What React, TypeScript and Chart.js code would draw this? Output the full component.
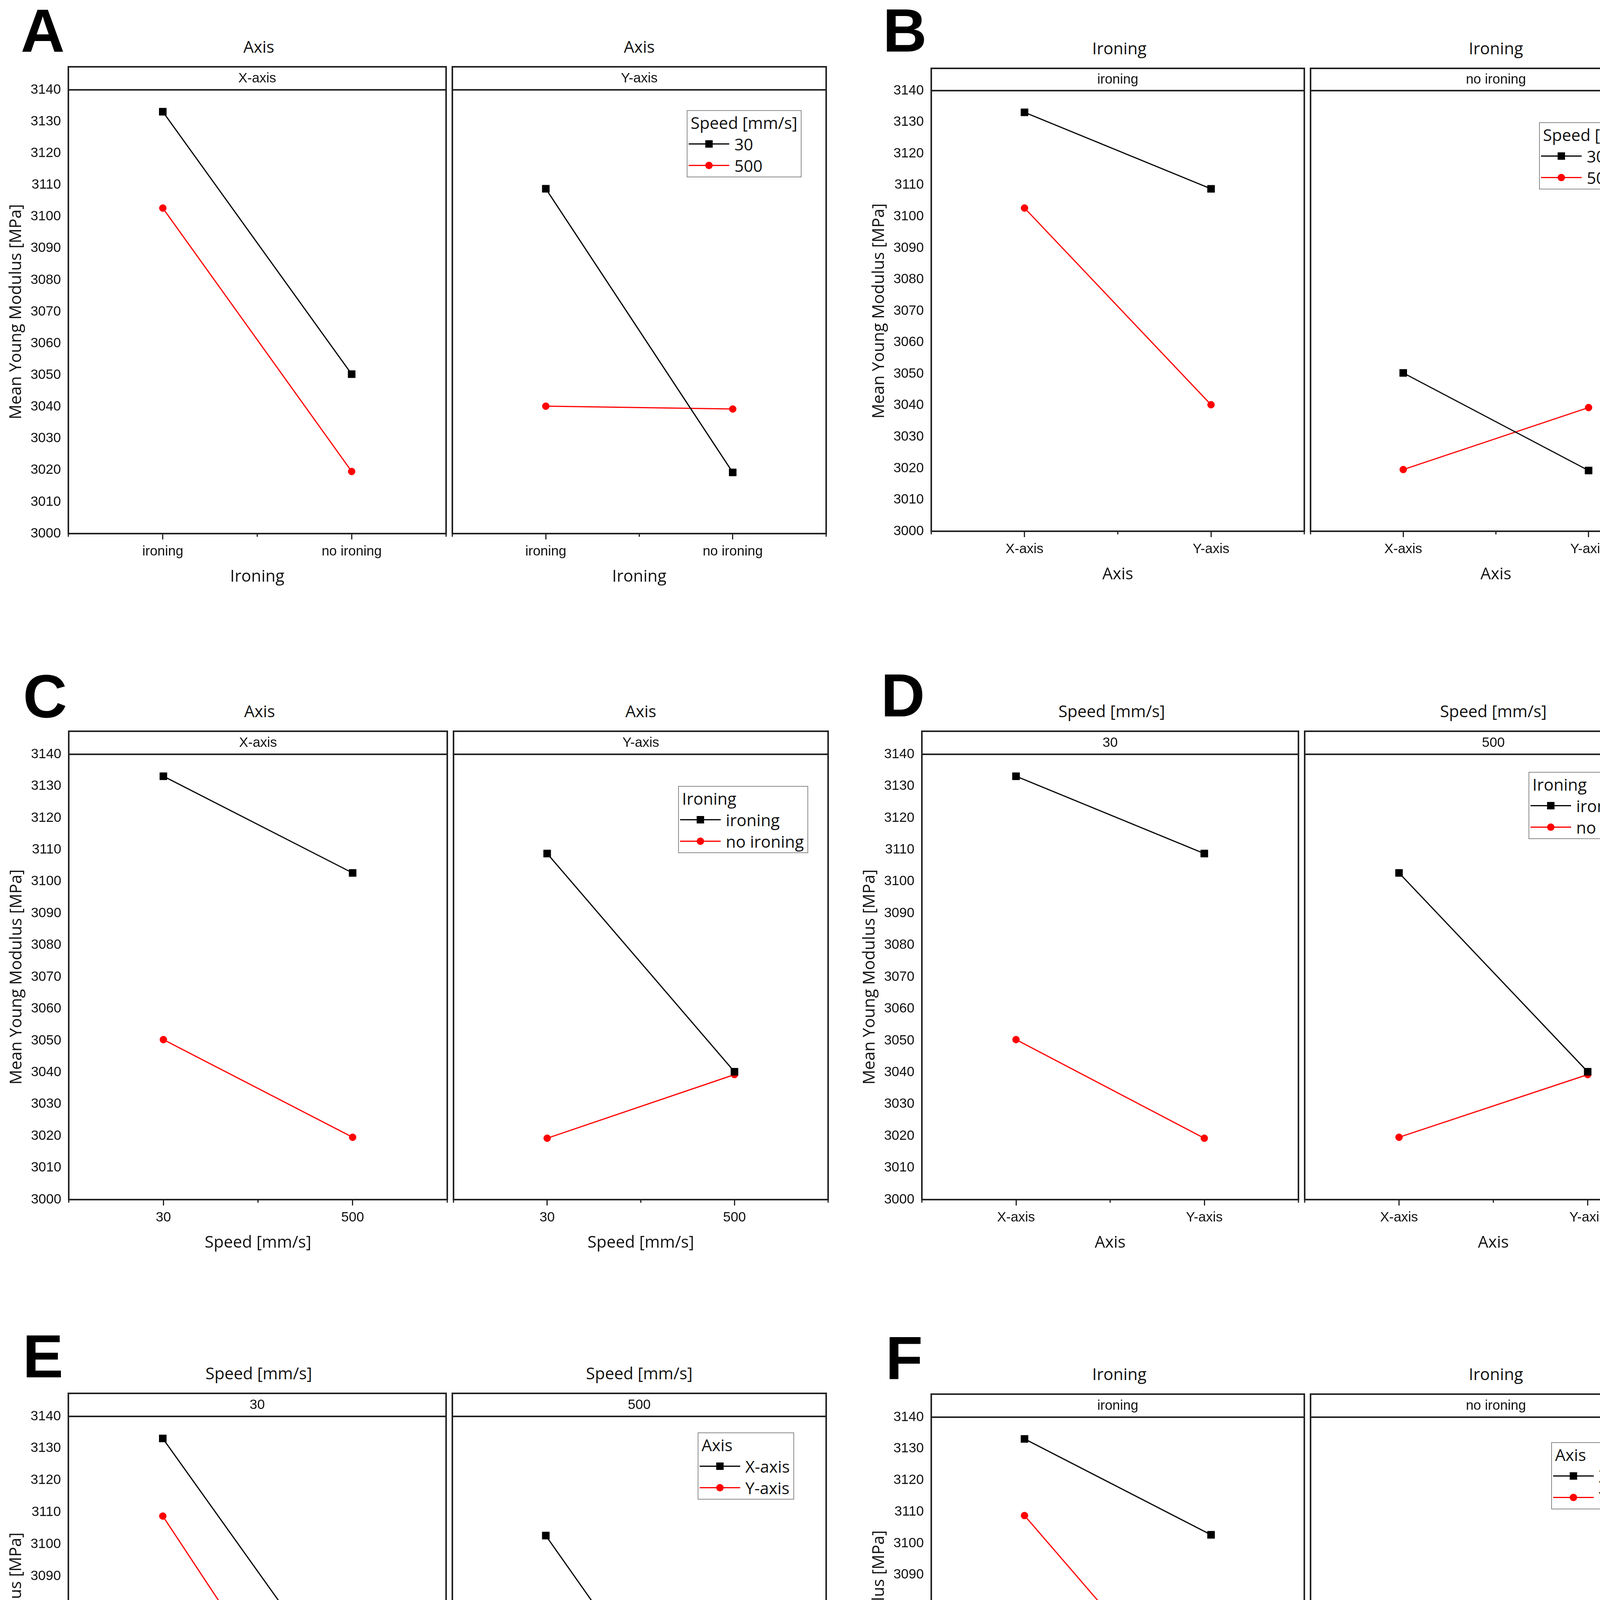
import React, { useEffect, useRef } from 'react';
import { Chart, registerables } from 'chart.js';

Chart.register(...registerables);

// ---------------- data ----------------
const axisLevels = ['X-axis', 'Y-axis'];
const ironingLevels = ['ironing', 'no ironing'];
const speedLevels = ['30', '500'];

// Mean Young modulus [MPa] per cell, indexed by speed level (30, 500)
const xAxisIroning = [3133.1, 3102.7];
const xAxisNoIroning = [3050.3, 3019.6];
const yAxisIroning = [3108.8, 3040.2];
const yAxisNoIroning = [3019.3, 3039.3];

const yTickValues = [3000, 3010, 3020, 3030, 3040, 3050, 3060, 3070, 3080, 3090, 3100, 3110, 3120, 3130, 3140];
const yMin = 3000;
const yMax = 3140;
const yTitle = 'Mean Young Modulus [MPa]';

const seriesColors = ['#000000', '#ff0000'];
const seriesMarkers = ['rect', 'circle'];

type FactorKey = 'axis' | 'ironing' | 'speed';

const factors: Record<FactorKey, { title: string; levels: string[] }> = {
  axis: { title: 'Axis', levels: axisLevels },
  ironing: { title: 'Ironing', levels: ironingLevels },
  speed: { title: 'Speed [mm/s]', levels: speedLevels },
};

const cellTable = [
  [xAxisIroning, xAxisNoIroning],
  [yAxisIroning, yAxisNoIroning],
];

function cellValue(idx: Record<FactorKey, number>) {
  return cellTable[idx.axis][idx.ironing][idx.speed];
}

// ---------------- layout ----------------
interface PanelSpec {
  letter: string;
  facet: FactorKey;
  x: FactorKey;
  series: FactorKey;
  L: number;
  M: number;
  R: number;
  stripTop: number;
  top: number;
  bottom: number;
  letterX: number;
  letterBase: number;
  legendX: number;
  legendY: number;
}

const panels: PanelSpec[] = [
  { letter: 'A', facet: 'axis', x: 'ironing', series: 'speed', L: 175, M: 1150, R: 2123, stripTop: 171, top: 230, bottom: 1366, letterX: 53, letterBase: 132, legendX: 1758, legendY: 282 },
  { letter: 'B', facet: 'ironing', x: 'axis', series: 'speed', L: 2384, M: 3347, R: 4312, stripTop: 175, top: 232, bottom: 1360, letterX: 2260, letterBase: 132, legendX: 3940, legendY: 313 },
  { letter: 'C', facet: 'axis', x: 'speed', series: 'ironing', L: 176, M: 1153, R: 2128, stripTop: 1872, top: 1931, bottom: 3071, letterX: 59, letterBase: 1836, legendX: 1736, legendY: 2012 },
  { letter: 'D', facet: 'speed', x: 'axis', series: 'ironing', L: 2360, M: 3332, R: 4314, stripTop: 1872, top: 1931, bottom: 3071, letterX: 2255, letterBase: 1834, legendX: 3913, legendY: 1976 },
  { letter: 'E', facet: 'speed', x: 'ironing', series: 'axis', L: 175, M: 1150, R: 2123, stripTop: 3567, top: 3626, bottom: 4771, letterX: 58, letterBase: 3526, legendX: 1786, legendY: 3667 },
  { letter: 'F', facet: 'ironing', x: 'speed', series: 'axis', L: 2384, M: 3347, R: 4312, stripTop: 3569, top: 3628, bottom: 4758, letterX: 2267, letterBase: 3530, legendX: 3971, legendY: 3692 },
];

const Y_AXIS_W = 175;
const X_AXIS_H = 136;
const FRAME = '#222222';
const TEXT = '#111111';
const ARIAL = '"Liberation Sans", Arial, sans-serif';
const SANS = '"Open Sans", "Noto Sans", sans-serif';

function SubChart({ p, side }: { p: PanelSpec; side: number }) {
  const ref = useRef<HTMLCanvasElement | null>(null);
  const cl = side === 0 ? p.L : p.M;
  const cr = side === 0 ? p.M : p.R;
  const stripH = p.top - p.stripTop;
  const padTop = stripH + 14;
  const yW = side === 0 ? Y_AXIS_W : 0;
  const padLeft = side === 0 ? 0 : 6;
  const padRight = 6;
  const padBottom = 6;
  const left = cl - yW - padLeft;
  const topPx = p.top - padTop;
  const width = yW + padLeft + (cr - cl) + padRight;
  const height = padTop + (p.bottom - p.top) + X_AXIS_H + padBottom;

  useEffect(() => {
    const canvas = ref.current;
    if (!canvas) return;
    const xLevels = factors[p.x].levels;
    const sLevels = factors[p.series].levels;
    const stripLabel = factors[p.facet].levels[side];

    const datasets = sLevels.map((sl, si) => {
      const data = xLevels.map((_, xi) => {
        const idx: Record<FactorKey, number> = { axis: 0, ironing: 0, speed: 0 };
        idx[p.facet] = side;
        idx[p.x] = xi;
        idx[p.series] = si;
        return cellValue(idx);
      });
      return {
        label: sl,
        data,
        borderColor: seriesColors[si],
        backgroundColor: seriesColors[si],
        pointBackgroundColor: seriesColors[si],
        pointBorderColor: seriesColors[si],
        borderWidth: 3,
        pointStyle: seriesMarkers[si],
        pointRadius: si === 0 ? 13 : 9,
        pointHoverRadius: si === 0 ? 13 : 9,
        pointBorderWidth: 1,
        tension: 0,
        fill: false,
      };
    });

    const framePlugin = {
      id: 'facetFrame',
      afterDraw(chart: any) {
        const { ctx, chartArea } = chart;
        const { left: l, top: t, right: r, bottom: b } = chartArea;
        const xs = chart.scales.x;
        ctx.save();
        ctx.strokeStyle = FRAME;
        ctx.lineWidth = 4;
        ctx.strokeRect(l, t, r - l, b - t);
        ctx.strokeRect(l, t - stripH, r - l, stripH);
        // minor ticks at category boundaries
        ctx.lineWidth = 3;
        ctx.beginPath();
        [-0.5, 0.5, 1.5].forEach((v) => {
          const px = xs.getPixelForValue(v);
          ctx.moveTo(px, b);
          ctx.lineTo(px, b + 8);
        });
        ctx.stroke();
        // strip label
        ctx.fillStyle = TEXT;
        ctx.font = `35px ${ARIAL}`;
        ctx.textAlign = 'center';
        ctx.textBaseline = 'middle';
        ctx.fillText(stripLabel, (l + r) / 2, t - stripH / 2 + 1);
        ctx.restore();
      },
    };

    const chart = new Chart(canvas, {
      type: 'line',
      data: { labels: xLevels, datasets: datasets as any },
      options: {
        animation: false,
        responsive: false,
        devicePixelRatio: 1,
        events: [],
        layout: { padding: { top: padTop, left: padLeft, right: padRight, bottom: padBottom } },
        plugins: { legend: { display: false }, tooltip: { enabled: false } },
        scales: {
          x: {
            type: 'category',
            offset: true,
            grid: {
              display: true,
              drawOnChartArea: false,
              drawTicks: true,
              tickLength: 15,
              tickWidth: 3,
              tickColor: FRAME,
              offset: false,
            },
            border: { display: false },
            ticks: {
              padding: 10,
              color: TEXT,
              font: { family: ARIAL, size: 35 },
              maxRotation: 0,
              autoSkip: false,
            },
            title: {
              display: true,
              text: factors[p.x].title,
              color: TEXT,
              font: { family: SANS, size: 42 },
              padding: { top: 0, bottom: 0 },
            },
            afterFit: (s: any) => {
              s.height = X_AXIS_H;
              s.paddingLeft = 0;
              s.paddingRight = 0;
            },
          },
          y: {
            type: 'linear',
            display: side === 0,
            min: yMin,
            max: yMax,
            grid: { display: false, drawTicks: false, drawOnChartArea: false },
            border: { display: false },
            ticks: {
              padding: 19,
              color: TEXT,
              font: { family: ARIAL, size: 35 },
              callback: (v: any) => String(v),
            },
            title: {
              display: side === 0,
              text: yTitle,
              color: TEXT,
              font: { family: SANS, size: 42 },
              padding: { top: 17, bottom: 0 },
            },
            afterBuildTicks: (s: any) => {
              s.ticks = yTickValues.map((v) => ({ value: v }));
            },
            afterFit: (s: any) => {
              s.width = yW;
              s.paddingTop = 0;
              s.paddingBottom = 0;
            },
          },
        },
      } as any,
      plugins: [framePlugin],
    });
    return () => chart.destroy();
  }, []);

  return (
    <canvas
      ref={ref}
      width={width}
      height={height}
      style={{ position: 'absolute', left, top: topPx, width, height }}
    />
  );
}

function LegendBox({ p }: { p: PanelSpec }) {
  const f = factors[p.series];
  return (
    <div
      style={{
        position: 'absolute',
        left: p.legendX,
        top: p.legendY,
        border: '2px solid #8a8a8a',
        background: '#ffffff',
        padding: '2px 9px 1px 3px',
        fontFamily: SANS,
        fontSize: 42,
        lineHeight: '55px',
        color: TEXT,
        whiteSpace: 'nowrap',
      }}
    >
      <div style={{ marginLeft: 5, height: 55 }}>{f.title}</div>
      {f.levels.map((lv, i) => (
        <div key={lv} style={{ display: 'flex', alignItems: 'center', height: 55 }}>
          <svg width={104} height={55} style={{ display: 'block' }}>
            <line x1={0} y1={27.5} x2={104} y2={27.5} stroke={seriesColors[i]} strokeWidth={3} />
            {seriesMarkers[i] === 'rect' ? (
              <rect x={52 - 9.5} y={27.5 - 9.5} width={19} height={19} fill={seriesColors[i]} />
            ) : (
              <circle cx={52} cy={27.5} r={9.5} fill={seriesColors[i]} />
            )}
          </svg>
          <span style={{ marginLeft: 13 }}>{lv}</span>
        </div>
      ))}
    </div>
  );
}

function Panel({ p }: { p: PanelSpec }) {
  const facet = factors[p.facet];
  const centers = [(p.L + p.M) / 2, (p.M + p.R) / 2];
  return (
    <>
      <div
        style={{
          position: 'absolute',
          left: p.letterX,
          top: p.letterBase - 132,
          fontFamily: ARIAL,
          fontWeight: 'bold',
          fontSize: 156,
          lineHeight: '156px',
          color: '#000',
        }}
      >
        {p.letter}
      </div>
      {centers.map((cx, i) => (
        <div
          key={i}
          style={{
            position: 'absolute',
            left: cx,
            top: p.stripTop - 52,
            transform: 'translate(-50%, -50%)',
            fontFamily: SANS,
            fontSize: 42,
            lineHeight: 1,
            color: TEXT,
            whiteSpace: 'nowrap',
          }}
        >
          {facet.title}
        </div>
      ))}
      <SubChart p={p} side={0} />
      <SubChart p={p} side={1} />
      <LegendBox p={p} />
    </>
  );
}

export default function App() {
  return (
    <div
      style={{
        position: 'absolute',
        left: 0,
        top: 0,
        width: 4340,
        height: 4920,
        background: '#ffffff',
        overflow: 'hidden',
      }}
    >
      {panels.map((p) => (
        <Panel key={p.letter} p={p} />
      ))}
    </div>
  );
}
